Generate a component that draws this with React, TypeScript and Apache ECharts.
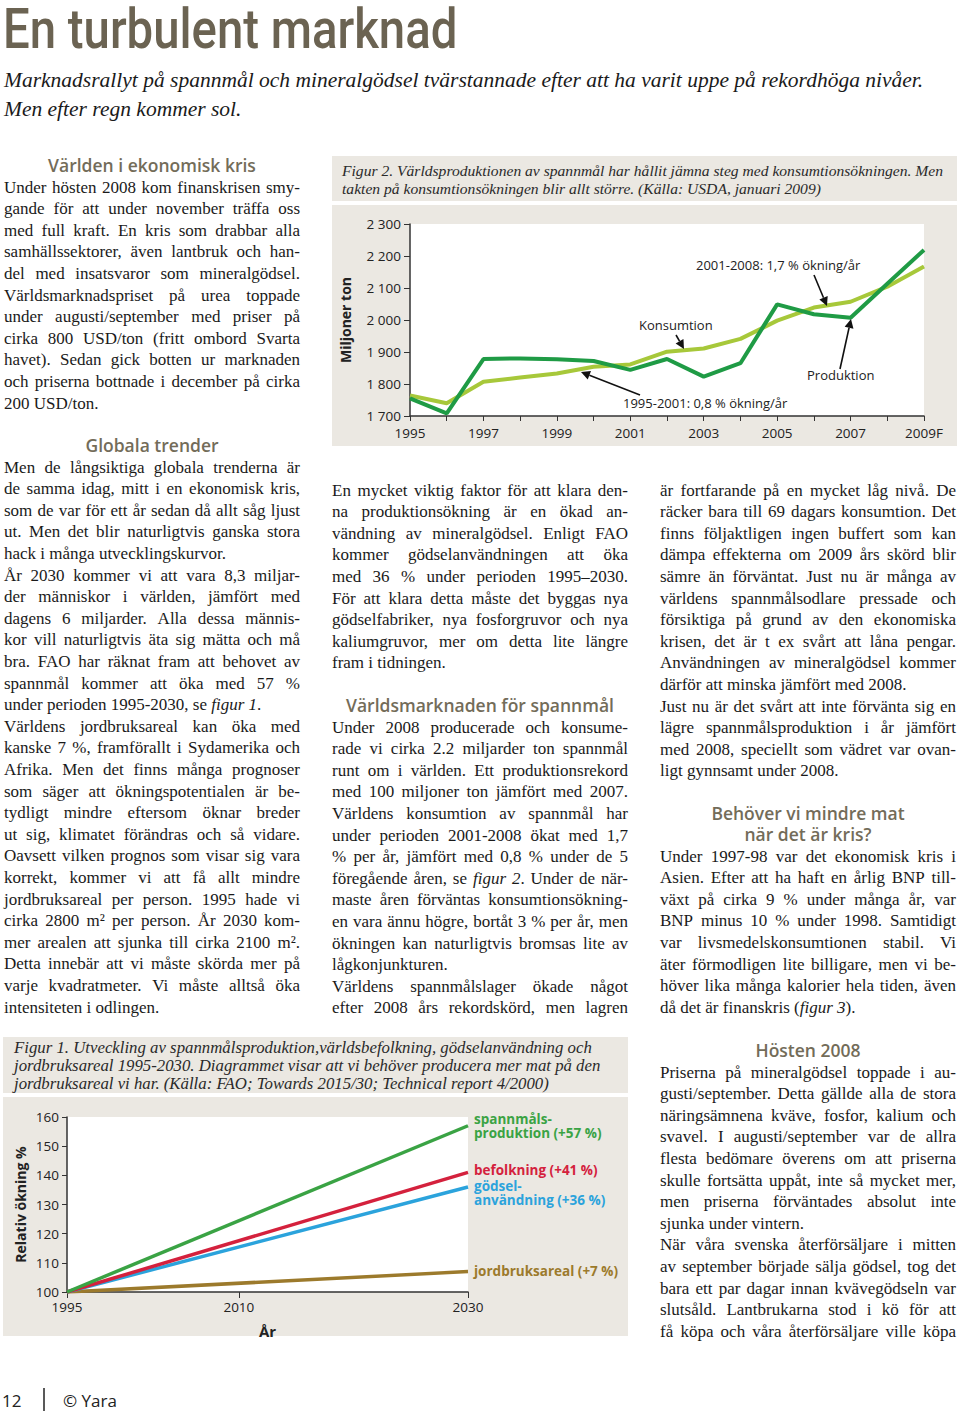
import React, { useEffect, useRef } from 'react';
import * as echarts from 'echarts';

// ---------- DATA ----------
const fig2Years = ['1995', '1996', '1997', '1998', '1999', '2000', '2001', '2002', '2003', '2004', '2005', '2006', '2007', '2008', '2009F'];
const fig2Production = [1755, 1708, 1878, 1880, 1877, 1872, 1844, 1878, 1823, 1865, 2049, 2018, 2007, 2113, 2219];
const fig2Consumption = [1764, 1740, 1807, 1820, 1833, 1854, 1861, 1901, 1911, 1941, 1998, 2039, 2057, 2104, 2167];

const fig1Years = [1995, 2030];
const fig1TickYears = [1995, 2010, 2030];
const fig1Grain = [100, 157];
const fig1Population = [100, 141];
const fig1Fertilizer = [100, 136];
const fig1Land = [100, 107];

const fig1Labels = ['spannmåls-\nproduktion (+57 %)', 'befolkning (+41 %)', 'gödsel-\nanvändning (+36 %)', 'jordbruksareal (+7 %)'];

// ---------- TEXT ----------
const title = 'En turbulent marknad';
const subtitle = [
  'Marknadsrallyt på spannmål och mineralgödsel tvärstannade efter att ha varit uppe på rekordhöga nivåer.',
  'Men efter regn kommer sol.',
];
const fig2Caption = [
  'Figur 2. Världsproduktionen av spannmål har hållit jämna steg med konsumtionsökningen. Men',
  'takten på konsumtionsökningen blir allt större. (Källa: USDA, januari 2009)',
];
const fig1Caption = [
  'Figur 1. Utveckling av spannmålsproduktion,världsbefolkning, gödselanvändning och',
  'jordbruksareal 1995-2030. Diagrammet visar att vi behöver producera mer mat på den',
  'jordbruksareal vi har. (Källa: FAO; Towards 2015/30; Technical report 4/2000)',
];
const col1a = [
  'Under hösten 2008 kom finanskrisen smy-',
  'gande för att under november träffa oss',
  'med full kraft. En kris som drabbar alla',
  'samhällssektorer, även lantbruk och han-',
  'del med insatsvaror som mineralgödsel.',
  'Världsmarknadspriset på urea toppade',
  'under augusti/september med priser på',
  'cirka 800 USD/ton (fritt ombord Svarta',
  'havet). Sedan gick botten ur marknaden',
  'och priserna bottnade i december på cirka',
  '200 USD/ton.',
];
const col1b = [
  'Men de långsiktiga globala trenderna är',
  'de samma idag, mitt i en ekonomisk kris,',
  'som de var för ett år sedan då allt såg ljust',
  'ut. Men det blir naturligtvis ganska stora',
  'hack i många utvecklingskurvor.',
  'År 2030 kommer vi att vara 8,3 miljar-',
  'der människor i världen, jämfört med',
  'dagens 6 miljarder. Alla dessa männis-',
  'kor vill naturligtvis äta sig mätta och må',
  'bra. FAO har räknat fram att behovet av',
  'spannmål kommer att öka med 57 %',
  'under perioden 1995-2030, se *figur 1*.',
  'Världens jordbruksareal kan öka med',
  'kanske 7 %, framförallt i Sydamerika och',
  'Afrika. Men det finns många prognoser',
  'som säger att ökningspotentialen är be-',
  'tydligt mindre eftersom öknar breder',
  'ut sig, klimatet förändras och så vidare.',
  'Oavsett vilken prognos som visar sig vara',
  'korrekt, kommer vi att få allt mindre',
  'jordbruksareal per person. 1995 hade vi',
  'cirka 2800 m² per person. År 2030 kom-',
  'mer arealen att sjunka till cirka 2100 m².',
  'Detta innebär att vi måste skörda mer på',
  'varje kvadratmeter. Vi måste alltså öka',
  'intensiteten i odlingen.',
];
const col2a = [
  'En mycket viktig faktor för att klara den-',
  'na produktionsökning är en ökad an-',
  'vändning av mineralgödsel. Enligt FAO',
  'kommer gödselanvändningen att öka',
  'med 36 % under perioden 1995–2030.',
  'För att klara detta måste det byggas nya',
  'gödselfabriker, nya fosforgruvor och nya',
  'kaliumgruvor, mer om detta lite längre',
  'fram i tidningen.',
];
const col2b = [
  'Under 2008 producerade och konsume-',
  'rade vi cirka 2.2 miljarder ton spannmål',
  'runt om i världen. Ett produktionsrekord',
  'med 100 miljoner ton jämfört med 2007.',
  'Världens konsumtion av spannmål har',
  'under perioden 2001-2008 ökat med 1,7',
  '% per år, jämfört med 0,8 % under de 5',
  'föregående åren, se *figur 2*. Under de när-',
  'maste åren förväntas konsumtionsökning-',
  'en vara ännu högre, bortåt 3 % per år, men',
  'ökningen kan naturligtvis bromsas lite av',
  'lågkonjunkturen.',
  'Världens spannmålslager ökade något',
  'efter 2008 års rekordskörd, men lagren',
];
const col3a = [
  'är fortfarande på en mycket låg nivå. De',
  'räcker bara till 69 dagars konsumtion. Det',
  'finns följaktligen ingen buffert som kan',
  'dämpa effekterna om 2009 års skörd blir',
  'sämre än förväntat. Just nu är många av',
  'världens spannmålsodlare pressade och',
  'försiktiga på grund av den ekonomiska',
  'krisen, det är t ex svårt att låna pengar.',
  'Användningen av mineralgödsel kommer',
  'därför att minska jämfört med 2008.',
  'Just nu är det svårt att inte förvänta sig en',
  'lägre spannmålsproduktion i år jämfört',
  'med 2008, speciellt som vädret var ovan-',
  'ligt gynnsamt under 2008.',
];
const col3b = [
  'Under 1997-98 var det ekonomisk kris i',
  'Asien. Efter att ha haft en årlig BNP till-',
  'växt på cirka 9 % under många år, var',
  'BNP minus 10 % under 1998. Samtidigt',
  'var livsmedelskonsumtionen stabil. Vi',
  'äter förmodligen lite billigare, men vi be-',
  'höver lika många kalorier hela tiden, även',
  'då det är finanskris (*figur 3*).',
];
const col3c = [
  'Priserna på mineralgödsel toppade i au-',
  'gusti/september. Detta gällde alla de stora',
  'näringsämnena kväve, fosfor, kalium och',
  'svavel. I augusti/september var de allra',
  'flesta bedömare överens om att priserna',
  'skulle fortsätta uppåt, inte så mycket mer,',
  'men priserna förväntades absolut inte',
  'sjunka under vintern.',
  'När våra svenska återförsäljare i mitten',
  'av september började sälja gödsel, tog det',
  'bara ett par dagar innan kvävegödseln var',
  'slutsåld. Lantbrukarna stod i kö för att',
  'få köpa och våra återförsäljare ville köpa',
];
// lines that end a paragraph and are set ragged (not justified)
const raggedLines = new Set([
  '200 USD/ton.',
  'hack i många utvecklingskurvor.',
  'under perioden 1995-2030, se *figur 1*.',
  'intensiteten i odlingen.',
  'fram i tidningen.',
  'lågkonjunkturen.',
  'därför att minska jämfört med 2008.',
  'ligt gynnsamt under 2008.',
  'då det är finanskris (*figur 3*).',
  'sjunka under vintern.',
]);

// ---------- STYLE ----------
const SERIF = '"Liberation Serif", "Times New Roman", serif';
const SANS = '"Open Sans", "Noto Sans", sans-serif';
const BODY_SIZE = 17;
const LH = 21.6;
const COL_W = 296;
const BODY_COLOR = '#1a1a1a';
const HEAD_COLOR = '#736c59';
const PANEL = '#ebe8e2';
const C_PROD = '#1f9b45';
const C_CONS = '#a7c83a';
const C_GRAIN = '#3aa344';
const C_POP = '#d4213d';
const C_FERT = '#2ba3dc';
const C_LAND = '#9c7a2c';

let measureCtx: CanvasRenderingContext2D | null = null;
function measure(t: string, italic: boolean): number {
  if (!measureCtx) measureCtx = document.createElement('canvas').getContext('2d');
  if (!measureCtx) return t.length * BODY_SIZE * 0.45;
  measureCtx.font = `${italic ? 'italic ' : ''}${BODY_SIZE}px ${SERIF}`;
  return measureCtx.measureText(t).width;
}

function justifiedLine(line: string, x: number, y: number): any {
  const segs: { t: string; it: boolean }[] = [];
  line.split('*').forEach((part, idx) => {
    if (part) segs.push({ t: part, it: idx % 2 === 1 });
  });
  const words: { t: string; it: boolean }[][] = [[]];
  segs.forEach((s) => {
    const parts = s.t.split(' ');
    parts.forEach((p, k) => {
      if (k > 0) words.push([]);
      if (p) words[words.length - 1].push({ t: p, it: s.it });
    });
  });
  const ws = words.filter((w) => w.length > 0);
  const spaceW = measure(' ', false);
  let natural = 0;
  ws.forEach((w) => w.forEach((p) => (natural += measure(p.t, p.it))));
  const gaps = ws.length - 1;
  natural += gaps * spaceW;
  let sw = spaceW;
  if (!raggedLines.has(line) && gaps > 0) {
    sw = Math.max(spaceW * 0.5, spaceW + (COL_W - natural) / gaps);
  }
  const text = ws
    .map((w) => w.map((p) => (p.it ? `{i|${p.t}}` : `{n|${p.t}}`)).join(''))
    .join('{s| }');
  const base = { fontFamily: SERIF, fontSize: BODY_SIZE, fill: BODY_COLOR };
  return {
    type: 'text',
    x,
    y,
    style: {
      text,
      ...base,
      textAlign: 'left',
      textVerticalAlign: 'middle',
      rich: {
        n: { ...base },
        i: { ...base, fontStyle: 'italic' },
        s: { ...base, width: sw },
      },
    },
  };
}

function bodyLines(lines: string[], x: number, y0: number): any[] {
  return lines.map((t, i) => justifiedLine(t, x, y0 + i * LH));
}

function heading(t: string, cx: number, y: number): any {
  return {
    type: 'text',
    x: cx,
    y,
    style: {
      text: t,
      fill: HEAD_COLOR,
      fontFamily: SANS,
      fontSize: 17.5,
      fontWeight: 600,
      lineHeight: 21,
      textAlign: 'center',
      textVerticalAlign: 'middle',
    },
  };
}

function italicLines(lines: string[], x: number, y0: number, size: number, lh: number, color = '#2a2a2a'): any[] {
  return lines.map((t, i) => ({
    type: 'text',
    x,
    y: y0 + i * lh,
    style: {
      text: t,
      fill: color,
      fontFamily: SERIF,
      fontSize: size,
      fontStyle: 'italic',
      textAlign: 'left',
      textVerticalAlign: 'middle',
    },
  }));
}

function sansText(t: string, x: number, y: number, size: number, extra: any = {}): any {
  return {
    type: 'text',
    x,
    y,
    style: {
      text: t,
      fill: '#222',
      fontFamily: SANS,
      fontSize: size,
      textAlign: 'left',
      textVerticalAlign: 'middle',
      ...extra,
    },
  };
}

function arrow(x1: number, y1: number, x2: number, y2: number): any[] {
  const ang = Math.atan2(y2 - y1, x2 - x1);
  const L = 9;
  const W = 4.5;
  const bx = x2 - L * Math.cos(ang);
  const by = y2 - L * Math.sin(ang);
  const px = -Math.sin(ang) * W;
  const py = Math.cos(ang) * W;
  return [
    { type: 'line', shape: { x1, y1, x2: bx, y2: by }, style: { stroke: '#111', lineWidth: 1.6 }, z: 50 },
    {
      type: 'polygon',
      shape: { points: [[x2, y2], [bx + px, by + py], [bx - px, by - py]] },
      style: { fill: '#111' },
      z: 50,
    },
  ];
}

export default function App() {
  const ref = useRef<HTMLDivElement>(null);

  useEffect(() => {
    document.body.style.margin = '0';
    if (!ref.current) return;
    const chart = echarts.init(ref.current, undefined, { renderer: 'svg' });

    const axisLabelStyle = { color: '#222', fontFamily: SANS, fontSize: 13.5 };

    const graphics: any[] = [
      // panels
      { type: 'rect', shape: { x: 332, y: 156, width: 625, height: 45 }, style: { fill: PANEL }, z: -10 },
      { type: 'rect', shape: { x: 332, y: 205, width: 625, height: 241 }, style: { fill: PANEL }, z: -10 },
      { type: 'rect', shape: { x: 3, y: 1037, width: 625, height: 56 }, style: { fill: PANEL }, z: -10 },
      { type: 'rect', shape: { x: 3, y: 1097, width: 625, height: 239 }, style: { fill: PANEL }, z: -10 },
      // title
      {
        type: 'text',
        x: 3,
        y: 29,
        scaleX: 0.845,
        style: {
          text: title,
          fill: '#6b6352',
          fontFamily: '"Roboto", sans-serif',
          fontSize: 56,
          fontWeight: 500,
          lineHeight: 50,
          textAlign: 'left',
          textVerticalAlign: 'middle',
        },
      },
      ...italicLines(subtitle, 4, 80, 21.5, 29, '#1a1a1a'),
      ...italicLines(fig2Caption, 342, 170, 15.6, 18),
      ...italicLines(fig1Caption, 14, 1047, 16.8, 18),
      heading('Världen i ekonomisk kris', 152, 165),
      ...bodyLines(col1a, 4, 187),
      heading('Globala trender', 152, 445),
      ...bodyLines(col1b, 4, 467),
      ...bodyLines(col2a, 332, 490),
      heading('Världsmarknaden för spannmål', 480, 705),
      ...bodyLines(col2b, 332, 727),
      ...bodyLines(col3a, 660, 490),
      heading('Behöver vi mindre mat\nnär det är kris?', 808, 823.5),
      ...bodyLines(col3b, 660, 856),
      heading('Hösten 2008', 808, 1050),
      ...bodyLines(col3c, 660, 1072),
      // Fig 2 annotations
      sansText('2001-2008: 1,7 % ökning/år', 696, 265, 13),
      sansText('Konsumtion', 639, 325, 13),
      sansText('Produktion', 807, 375, 13),
      sansText('1995-2001: 0,8 % ökning/år', 623, 403, 13),
      ...arrow(814, 275, 827, 306),
      ...arrow(676, 335, 684, 349),
      ...arrow(840, 369, 851, 319),
      ...arrow(640, 395, 581, 372),
      // footer
      sansText('12', 2, 1400, 17),
      { type: 'line', shape: { x1: 44, y1: 1388, x2: 44, y2: 1411 }, style: { stroke: '#222', lineWidth: 1.5 } },
      sansText('© Yara', 63, 1400, 17),
    ];

    const option: any = {
      animation: false,
      backgroundColor: '#ffffff',
      grid: [
        { left: 410, top: 224, width: 514, height: 192, show: true, backgroundColor: '#ffffff', borderWidth: 0 },
        { left: 67, top: 1117, width: 401, height: 175, show: true, backgroundColor: '#ffffff', borderWidth: 0 },
      ],
      xAxis: [
        {
          gridIndex: 0,
          type: 'category',
          data: fig2Years,
          boundaryGap: false,
          axisLine: { lineStyle: { color: '#333', width: 1.5 } },
          axisTick: { interval: 0, length: 5, lineStyle: { color: '#333' } },
          axisLabel: { ...axisLabelStyle, interval: 1, margin: 10 },
          splitLine: { show: false },
        },
        {
          gridIndex: 1,
          type: 'value',
          min: 1995,
          max: 2030,
          name: 'År',
          nameLocation: 'middle',
          nameGap: 31,
          nameTextStyle: { color: '#222', fontFamily: SANS, fontSize: 15, fontWeight: 'bold' },
          axisLine: { lineStyle: { color: '#333', width: 1.5 } },
          axisTick: { customValues: fig1TickYears, length: 6, lineStyle: { color: '#333' } },
          axisLabel: { ...axisLabelStyle, customValues: fig1TickYears, margin: 8, formatter: (v: number) => String(v) },
          splitLine: { show: false },
        },
      ],
      yAxis: [
        {
          gridIndex: 0,
          type: 'value',
          min: 1700,
          max: 2300,
          interval: 100,
          name: 'Miljoner ton',
          nameLocation: 'middle',
          nameRotate: 90,
          nameGap: 58,
          nameTextStyle: { color: '#222', fontFamily: SANS, fontSize: 14, fontWeight: 'bold' },
          axisLine: { show: true, lineStyle: { color: '#333', width: 1.5 } },
          axisTick: { show: true, length: 6, lineStyle: { color: '#333' } },
          axisLabel: {
            ...axisLabelStyle,
            margin: 9,
            formatter: (v: number) => {
              const s = String(v);
              return s.length > 3 ? s.slice(0, s.length - 3) + ' ' + s.slice(-3) : s;
            },
          },
          splitLine: { show: false },
        },
        {
          gridIndex: 1,
          type: 'value',
          min: 100,
          max: 160,
          interval: 10,
          name: 'Relativ ökning %',
          nameLocation: 'middle',
          nameRotate: 90,
          nameGap: 40,
          nameTextStyle: { color: '#222', fontFamily: SANS, fontSize: 14, fontWeight: 'bold' },
          axisLine: { show: true, lineStyle: { color: '#333', width: 1.5 } },
          axisTick: { show: true, length: 5, lineStyle: { color: '#333' } },
          axisLabel: { ...axisLabelStyle, margin: 8 },
          splitLine: { show: false },
        },
      ],
      series: [
        {
          name: 'Konsumtion',
          type: 'line',
          xAxisIndex: 0,
          yAxisIndex: 0,
          data: fig2Consumption,
          symbol: 'none',
          lineStyle: { color: C_CONS, width: 4 },
          z: 3,
        },
        {
          name: 'Produktion',
          type: 'line',
          xAxisIndex: 0,
          yAxisIndex: 0,
          data: fig2Production,
          symbol: 'none',
          lineStyle: { color: C_PROD, width: 4 },
          z: 4,
        },
        ...[
          { data: fig1Land, color: C_LAND, label: fig1Labels[3], off: [0, -1] },
          { data: fig1Fertilizer, color: C_FERT, label: fig1Labels[2], off: [0, 6] },
          { data: fig1Population, color: C_POP, label: fig1Labels[1], off: [0, -2] },
          { data: fig1Grain, color: C_GRAIN, label: fig1Labels[0], off: [0, 0] },
        ].map((s) => ({
          type: 'line',
          xAxisIndex: 1,
          yAxisIndex: 1,
          data: fig1Years.map((y, i) => [y, s.data[i]]),
          symbol: 'none',
          lineStyle: { color: s.color, width: 3.5 },
          endLabel: {
            show: true,
            formatter: () => s.label,
            color: s.color,
            fontFamily: SANS,
            fontSize: 13.5,
            fontWeight: 'bold',
            lineHeight: 14,
            distance: 6,
            offset: s.off,
            align: 'left',
          },
        })),
      ],
      graphic: { elements: graphics },
    };

    chart.setOption(option);
    return () => chart.dispose();
  }, []);

  return <div ref={ref} style={{ width: 960, height: 1412 }} />;
}
